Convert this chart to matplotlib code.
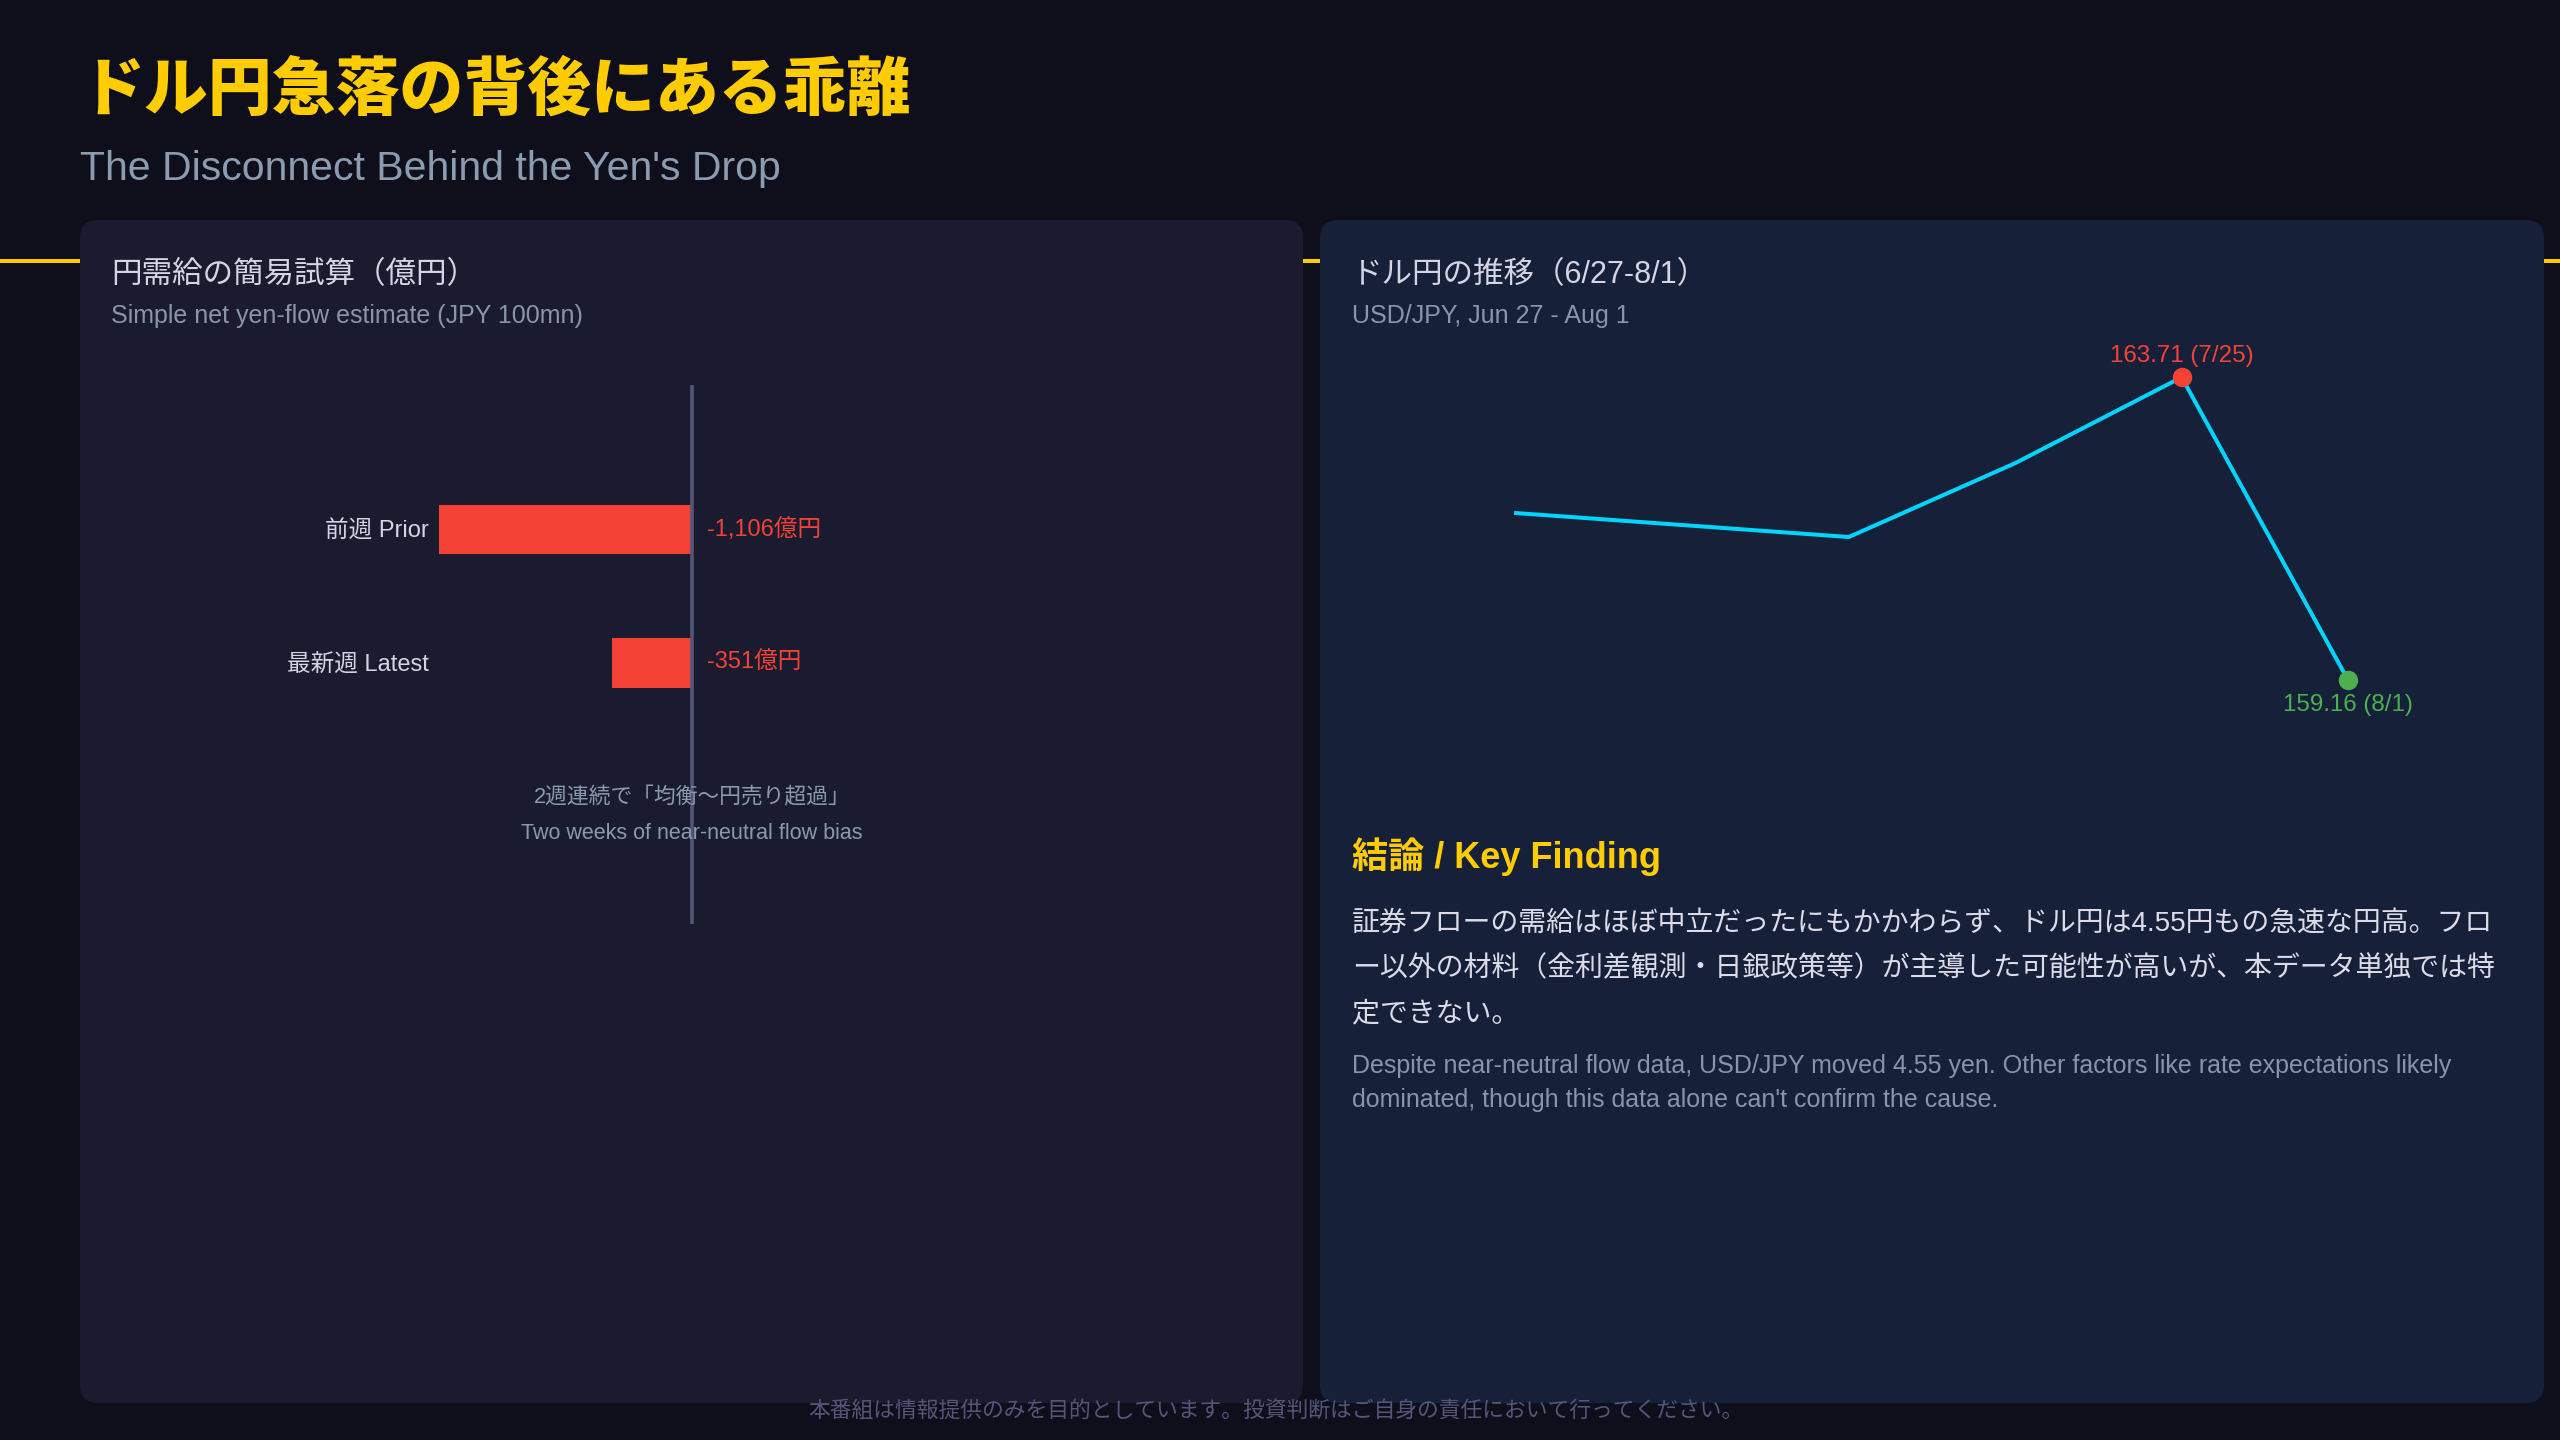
import matplotlib
matplotlib.use('Agg')
import matplotlib.pyplot as plt
from matplotlib.patches import FancyBboxPatch
from datetime import date

plt.rcParams['font.family'] = ['Liberation Sans', 'Noto Sans CJK JP', 'DejaVu Sans']

# ---------------- data ----------------
flow_labels = ['前週 Prior', '最新週 Latest']
flow_values = [-1106, -351]
flow_value_text = ['-1,106億円', '-351億円']

fx_dates = ['6/27', '7/11', '7/18', '7/25', '8/1']
fx_values = [161.67, 161.31, 162.42, 163.71, 159.16]
fx_peak_label = '163.71 (7/25)'
fx_last_label = '159.16 (8/1)'

title_jp = 'ドル円急落の背後にある乖離'
title_en = "The Disconnect Behind the Yen's Drop"
left_title = '円需給の簡易試算（億円）'
left_sub = 'Simple net yen-flow estimate (JPY 100mn)'
right_title = 'ドル円の推移（6/27-8/1）'
right_sub = 'USD/JPY, Jun 27 - Aug 1'
note_jp = '2週連続で「均衡〜円売り超過」'
note_en = 'Two weeks of near-neutral flow bias'
key_head = '結論 / Key Finding'
key_jp_lines = ['証券フローの需給はほぼ中立だったにもかかわらず、ドル円は4.55円もの急速な円高。フロ',
                'ー以外の材料（金利差観測・日銀政策等）が主導した可能性が高いが、本データ単独では特',
                '定できない。']
key_en_lines = ['Despite near-neutral flow data, USD/JPY moved 4.55 yen. Other factors like rate expectations likely',
                "dominated, though this data alone can't confirm the cause."]
footer = '本番組は情報提供のみを目的としています。投資判断はご自身の責任において行ってください。'

# ---------------- colours ----------------
BG = '#0f0f1c'
PANEL_L = '#1a1b2e'
PANEL_R = '#162039'
YELLOW = '#ffcc00'
RED = '#f44336'
GREEN = '#4caf50'
CYAN = '#00d4ff'
LIGHT = '#d4d4e4'
GREY = '#8a96a8'

W, H = 2560, 1440
fig = plt.figure(figsize=(25.6, 14.4), dpi=100)
fig.patch.set_facecolor(BG)

bg = fig.add_axes([0, 0, 1, 1])
bg.set_xlim(0, W)
bg.set_ylim(H, 0)
bg.axis('off')
bg.set_zorder(0)

bg.plot([0, W], [261, 261], color=YELLOW, lw=2.9, solid_capstyle='butt', zorder=1)
bg.add_patch(FancyBboxPatch((80, 220), 1223, 1183, boxstyle='round,pad=0,rounding_size=18',
                            fc=PANEL_L, ec='none', zorder=2))
bg.add_patch(FancyBboxPatch((1320, 220), 1224, 1183, boxstyle='round,pad=0,rounding_size=18',
                            fc=PANEL_R, ec='none', zorder=2))

bg.text(80, 91, title_jp, color=YELLOW, fontsize=46, fontweight='black',
        family=['Noto Sans CJK JP'], va='center', ha='left', zorder=5)
bg.text(80, 169, title_en, color='#8b9bb0', fontsize=29.5, va='center', ha='left', zorder=5)

for x0, t, s in [(111, left_title, left_sub), (1352, right_title, right_sub)]:
    bg.text(x0, 275, t, color=LIGHT, fontsize=22, va='center', ha='left', zorder=5)
    bg.text(x0, 316, s, color=GREY, fontsize=18, va='center', ha='left', zorder=5)

bg.text(1352, 857, key_head, color=YELLOW, fontsize=26, fontweight='bold', va='center', ha='left', zorder=5)
for i, ln in enumerate(key_jp_lines):
    bg.text(1352, 924 + i * 45, ln, color='#dcdce8', fontsize=20.1, va='center', ha='left', zorder=5)
for i, ln in enumerate(key_en_lines):
    bg.text(1352, 1066 + i * 34, ln, color='#8a94a8', fontsize=18, va='center', ha='left', zorder=5)

bg.text(1276, 1411, footer, color='#55557a', fontsize=15.7, va='center', ha='center', zorder=5)


def px_axes(left, top, right, bottom):
    return fig.add_axes([left / W, 1 - bottom / H, (right - left) / W, (bottom - top) / H])


# ---------------- bar chart ----------------
axb = px_axes(436, 385, 1240, 924)
axb.set_facecolor('none')
ypos = list(range(len(flow_values)))
axb.barh(ypos, flow_values, height=0.366, color=RED, zorder=2)
axb.axvline(0, color='#555577', lw=2.6, zorder=3)
axb.set_xlim(-1119, 2395)
axb.set_ylim(2.948, -1.075)
axb.set_yticks(ypos)
axb.set_yticklabels(flow_labels, color=LIGHT, fontsize=17)
axb.tick_params(axis='y', length=0, pad=5)
axb.set_xticks([])
for sp in axb.spines.values():
    sp.set_visible(False)
for y, t in zip(ypos, flow_value_text):
    axb.annotate(t, (0, y), xytext=(11, 0), textcoords='offset points',
                 color=RED, fontsize=17, va='center', ha='left')
axb.text(0, 2.01, note_jp, color='#8a9aae', fontsize=15.7, ha='center', va='center', zorder=4)
axb.text(0, 2.27, note_en, color='#8a9aae', fontsize=15.5, ha='center', va='center', zorder=4)

# ---------------- line chart ----------------
d0 = date(2024, 6, 27)
days = [(date(2024, int(s.split('/')[0]), int(s.split('/')[1])) - d0).days for s in fx_dates]
axl = px_axes(1400, 330, 2480, 760)
axl.set_facecolor('none')
axl.plot(days, fx_values, color=CYAN, lw=2.9, solid_joinstyle='miter', zorder=2)
ipk = fx_values.index(max(fx_values))
axl.plot(days[ipk], fx_values[ipk], 'o', color=RED, ms=13, zorder=3)
axl.plot(days[-1], fx_values[-1], 'o', color=GREEN, ms=13, zorder=3)
axl.annotate(fx_peak_label, (days[ipk], fx_values[ipk]), xytext=(0, 15), textcoords='offset points',
             color=RED, fontsize=17.4, ha='center', va='center')
axl.annotate(fx_last_label, (days[-1], fx_values[-1]), xytext=(0, -18), textcoords='offset points',
             color=GREEN, fontsize=17.4, ha='center', va='center')
axl.set_xlim(-4.88, 40.55)
axl.set_ylim(157.96, 164.42)
axl.axis('off')

fig.savefig('out.png', dpi=100, facecolor=BG)
